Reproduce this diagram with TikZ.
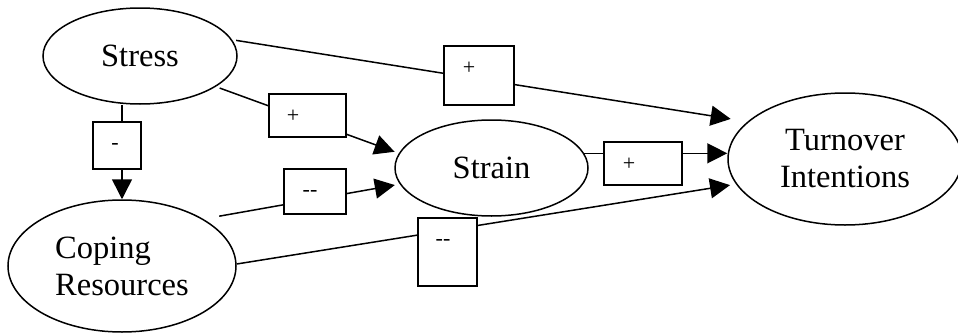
\documentclass[tikz,border=0pt]{standalone}
\usepackage{fontspec}
\setmainfont{Liberation Serif}
\usetikzlibrary{shapes.geometric,arrows.meta}

\begin{document}
\begin{tikzpicture}[x=1pt,y=1pt,yscale=-1,xscale=1,
	var/.style={draw,ellipse,line width=1.5pt,inner sep=0pt,font=\fontsize{32.5}{37}\selectfont},
	link/.style={line width=1.5pt,-{Triangle[length=20pt,width=20pt]}},
	signbox/.style={draw,fill=white,line width=1.5pt,anchor=north west,inner sep=0pt},
	sign/.style={inner sep=0pt,font=\fontsize{22}{24}\selectfont}]
				\useasboundingbox (0,0) rectangle (958,332);

				%Shape: Ellipse [stress]
				\node[var,minimum width=194,minimum height=96] (stress) at (140,56) {Stress};
				%Shape: Ellipse [coping]
				\node[var,minimum width=228,minimum height=132,align=left] (coping) at (122,266) {Coping\\Resources};
				%Shape: Ellipse [strain]
				\node[var,minimum width=193,minimum height=96] (strain) at (491.5,168) {Strain};
				%Shape: Ellipse [turn]
				\node[var,minimum width=234,minimum height=132,align=center] (turn) at (845,159) {Turnover\\Intentions};

				%Straight Lines
				\draw[link,shorten <=4pt,shorten >=17pt] (stress.10) -- (turn.159);
				\draw[link,shorten <=4pt,shorten >=4.5pt] (stress.-22) -- (strain.171);
				\draw[link] (stress.south -| coping.north) -- (coping.north);
				\draw[link,shorten <=16pt,shorten >=5pt] (coping.30) -- (strain.190);
				\draw[link,shorten >=6pt] (coping.1) -- (turn.193);
				\draw[link] (strain.9) -- (strain.9 -| turn.west);

				%Shape: Rectangle
				\node[signbox,minimum width=70,minimum height=59] (b1) at (443,45) {};
				\node[signbox,minimum width=77,minimum height=43] (b2) at (268,93) {};
				\node[signbox,minimum width=48,minimum height=47] (b3) at (92,121) {};
				\node[signbox,minimum width=62,minimum height=45] (b4) at (283,168) {};
				\node[signbox,minimum width=59,minimum height=68] (b5) at (417,217) {};
				\node[signbox,minimum width=78,minimum height=43] (b6) at (603,141) {};

				% Text Node
				\node[sign] (p1) at (469,68) {+};
				\node[sign] (p2) at (293,116) {+};
				\node[sign] (m3) at (115,146) {-};
				\node[sign] (m4) at (310,193) {-{}-};
				\node[sign] (m5) at (443,242) {-{}-};
				\node[sign] (p6) at (629,164) {+};

\end{tikzpicture}
\end{document}
